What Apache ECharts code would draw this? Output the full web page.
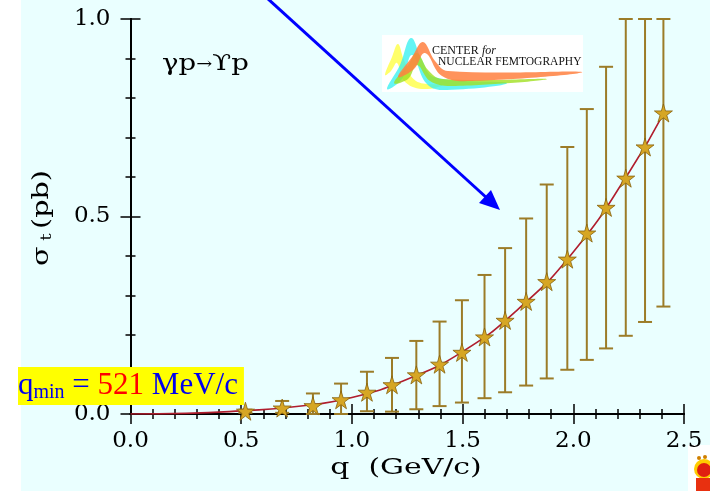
<!DOCTYPE html>
<html>
<head>
<meta charset="utf-8">
<script src="https://cdn.jsdelivr.net/npm/echarts@6/dist/echarts.min.js"></script>
<style>html,body{margin:0;padding:0;background:#eaffff;}#c{width:710px;height:491px;}</style>
</head>
<body>
<div id="c"></div>
<script>
// ---- data ----
const qValues = [0.519, 0.685, 0.824, 0.951, 1.068, 1.181, 1.291, 1.396, 1.497, 1.599,
                 1.692, 1.787, 1.880, 1.973, 2.061, 2.148, 2.237, 2.324, 2.407];
const sigmaValues = [0.007, 0.015, 0.021, 0.036, 0.055, 0.074, 0.099, 0.126, 0.156, 0.195,
                     0.237, 0.285, 0.335, 0.392, 0.458, 0.523, 0.597, 0.676, 0.762];
const errUpper = [0.011, 0.033, 0.052, 0.077, 0.107, 0.142, 0.185, 0.234, 0.288, 0.352,
                  0.420, 0.495, 0.581, 0.676, 0.772, 0.879, 1.0, 1.0, 1.0];
const errLower = [0.003, 0.003, 0.0, 0.0, 0.007, 0.006, 0.012, 0.020, 0.029, 0.040,
                  0.055, 0.072, 0.090, 0.112, 0.137, 0.166, 0.198, 0.233, 0.272];
// fitted curve
const curveQ = [0.0, 0.25, 0.5, 0.75, 1.0, 1.25, 1.5, 1.75, 2.0, 2.25, 2.415];
const curveS = [0.0, 0.0015, 0.008, 0.019, 0.042, 0.088, 0.158, 0.265, 0.41, 0.61, 0.768];
const xTicks = [0.0, 0.5, 1.0, 1.5, 2.0, 2.5];
const yTicks = [0.0, 0.5, 1.0];

const curveData = curveQ.map((q, i) => [q, curveS[i]]);
const pointData = qValues.map((q, i) => [q, sigmaValues[i]]);
const errData = qValues.map((q, i) => [q, errLower[i], errUpper[i]]);

const SERIF = "'DejaVu Serif', serif";
const TIMES = "'Liberation Serif', serif";
const chart = echarts.init(document.getElementById('c'), null, {renderer: 'canvas'});

const axisCommon = {
  type: 'value', min: 0, interval: 0.5,
  axisLine: {show: true, lineStyle: {color: '#000', width: 2}},
  axisTick: {show: true, inside: true, length: 10, lineStyle: {color: '#000', width: 1.5}},
  minorTick: {show: true, splitNumber: 5, length: 5, lineStyle: {color: '#000', width: 1.5}},
  splitLine: {show: false}
};

const option = {
  backgroundColor: '#eaffff',
  animation: false,
  grid: {left: 130.5, right: 26, top: 19, bottom: 77},
  xAxis: [
    Object.assign({}, axisCommon, {
      max: 2.5, position: 'bottom',
      axisLabel: {show: true, margin: 16, fontFamily: SERIF, fontSize: 23, color: '#000',
        formatter: v => xTicks.includes(+(+v).toFixed(1)) ? (+v).toFixed(1) : ''}
    }),
    Object.assign({}, axisCommon, {max: 2.5, position: 'top', axisLabel: {show: false}})
  ],
  yAxis: [
    Object.assign({}, axisCommon, {
      max: 1.0, position: 'left',
      axisLabel: {show: true, margin: 20, fontFamily: SERIF, fontSize: 23, color: '#000',
        formatter: v => yTicks.includes(+(+v).toFixed(1)) ? (+v).toFixed(1) : ''}
    }),
    Object.assign({}, axisCommon, {max: 1.0, position: 'right', axisLabel: {show: false}})
  ],
  series: [
    {
      type: 'custom', xAxisIndex: 0, yAxisIndex: 0, z: 2,
      data: errData,
      renderItem: function (params, api) {
        const x = api.value(0);
        const lo = api.coord([x, api.value(1)]);
        const hi = api.coord([x, api.value(2)]);
        const hw = 7;
        const st = {stroke: '#9c7c28', lineWidth: 2};
        return {type: 'group', children: [
          {type: 'line', shape: {x1: lo[0], y1: lo[1], x2: hi[0], y2: hi[1]}, style: st},
          {type: 'line', shape: {x1: lo[0] - hw, y1: lo[1], x2: lo[0] + hw, y2: lo[1]}, style: st},
          {type: 'line', shape: {x1: hi[0] - hw, y1: hi[1], x2: hi[0] + hw, y2: hi[1]}, style: st}
        ]};
      }
    },
    {
      type: 'line', data: curveData, smooth: 0.5, showSymbol: false, z: 3,
      lineStyle: {color: '#b01e2e', width: 1.6}
    },
    {
      type: 'scatter', data: pointData, z: 4,
      symbol: 'path://M50,0 L61,35 L98,35 L68,57 L79,91 L50,70 L21,91 L32,57 L2,35 L39,35 Z',
      symbolSize: 18,
      itemStyle: {color: '#d6a624', borderColor: '#86620e', borderWidth: 0.8, opacity: 1}
    }
  ],
  graphic: [
    {type: 'rect', x: 0, y: 0, shape: {width: 21, height: 491}, style: {fill: '#ffffff'}, z: 0},
    {type: 'text', x: 162, y: 53, z: 10, scaleX: 1.2,
      style: {text: '{a|γp}{b|→}{a|ϒp}', rich: {
        a: {fontFamily: SERIF, fontSize: 23, fill: '#000'},
        b: {fontFamily: SERIF, fontSize: 16, fill: '#000'}
      }}},
    {type: 'text', x: 406, y: 468, z: 10, scaleX: 1.36,
      style: {text: 'q  (GeV/c)', fontFamily: SERIF, fontSize: 22, fill: '#000', align: 'center', verticalAlign: 'middle'}},
    {type: 'text', x: 42, y: 218, rotation: Math.PI / 2, z: 10, scaleX: 1.3,
      style: {text: '{s|σ}{t| t} {s|(pb)}', align: 'center', verticalAlign: 'middle', rich: {
        s: {fontFamily: SERIF, fontSize: 22, fill: '#000'},
        t: {fontFamily: SERIF, fontSize: 14, fill: '#000', padding: [10,0,0,0]}
      }}},
    {type: 'text', x: 18, y: 367, z: 20,
      style: {text: '{q|q}{m|min}{q| = }{r|521}{q| MeV/c}', backgroundColor: '#ffff00',
        padding: [1, 6, 1, 0],
        rich: {
          q: {fontFamily: TIMES, fontSize: 31, fill: '#0000ee', height: 36},
          m: {fontFamily: TIMES, fontSize: 20, fill: '#0000ee', padding: [14,0,0,0]},
          r: {fontFamily: TIMES, fontSize: 31, fill: '#ff0000', height: 36}
        }}},
    {type: 'line', z: 15, shape: {x1: 256, y1: -12, x2: 488, y2: 199}, style: {stroke: '#0000ff', lineWidth: 3}},
    {type: 'polygon', z: 15, shape: {points: [[500, 210], [479, 203], [491, 190]]}, style: {fill: '#0000ff'}},
    {type: 'group', x: 382, y: 35, z: 12, children: [
      {type: 'rect', shape: {x: 0, y: 0, width: 201, height: 57}, style: {fill: '#ffffff'}},
      {type: 'polygon', shape: {smooth: 0.4, points: [[3,40],[10,22],[16,9],[22,25],[34,46],[60,50],[40,54],[22,46],[15,28],[9,36]]},
        style: {fill: '#ffff50', opacity: 0.85}},
      {type: 'polygon', shape: {smooth: 0.4, points: [[5,54],[18,30],[29,3],[40,25],[52,42],[125,48],[60,55],[44,48],[30,20],[20,44]]},
        style: {fill: '#30f0f0', opacity: 0.75}},
      {type: 'polygon', shape: {smooth: 0.4, points: [[12,48],[26,30],[35,18],[46,35],[60,44],[165,44],[70,51],[48,46],[35,30],[26,44]]},
        style: {fill: '#a0e020', opacity: 0.8}},
      {type: 'polygon', shape: {smooth: 0.4, points: [[16,42],[30,22],[41,7],[53,26],[66,36],[200,37],[90,46],[60,41],[43,18],[32,34]]},
        style: {fill: '#ff8040', opacity: 0.85}},
      {type: 'text', x: 50, y: 16, style: {text: '{n|CENTER} {i|for}', verticalAlign: 'middle', rich: {
        n: {fontFamily: TIMES, fontSize: 12, fill: '#111'},
        i: {fontFamily: TIMES, fontSize: 12, fontStyle: 'italic', fill: '#111'}}}},
      {type: 'text', x: 56, y: 27, scaleX: 0.96, style: {text: 'NUCLEAR FEMTOGRAPHY', verticalAlign: 'middle',
        fontFamily: TIMES, fontSize: 12, fill: '#111'}}
    ]},
    {type: 'group', x: 688, y: 445, z: 12, children: [
      {type: 'rect', shape: {x: 0, y: 0, width: 22, height: 46}, style: {fill: '#ffffff'}},
      {type: 'circle', shape: {cx: 16, cy: 24, r: 10}, style: {fill: '#ffcc00'}},
      {type: 'circle', shape: {cx: 16, cy: 25, r: 7}, style: {fill: '#e02010'}},
      {type: 'rect', shape: {x: 8, y: 33, width: 14, height: 13}, style: {fill: '#e83010'}},
      {type: 'circle', shape: {cx: 11, cy: 13, r: 2}, style: {fill: '#d08000'}},
      {type: 'circle', shape: {cx: 17, cy: 12, r: 2}, style: {fill: '#d08000'}}
    ]}
  ]
};
chart.setOption(option);
</script>
</body>
</html>
